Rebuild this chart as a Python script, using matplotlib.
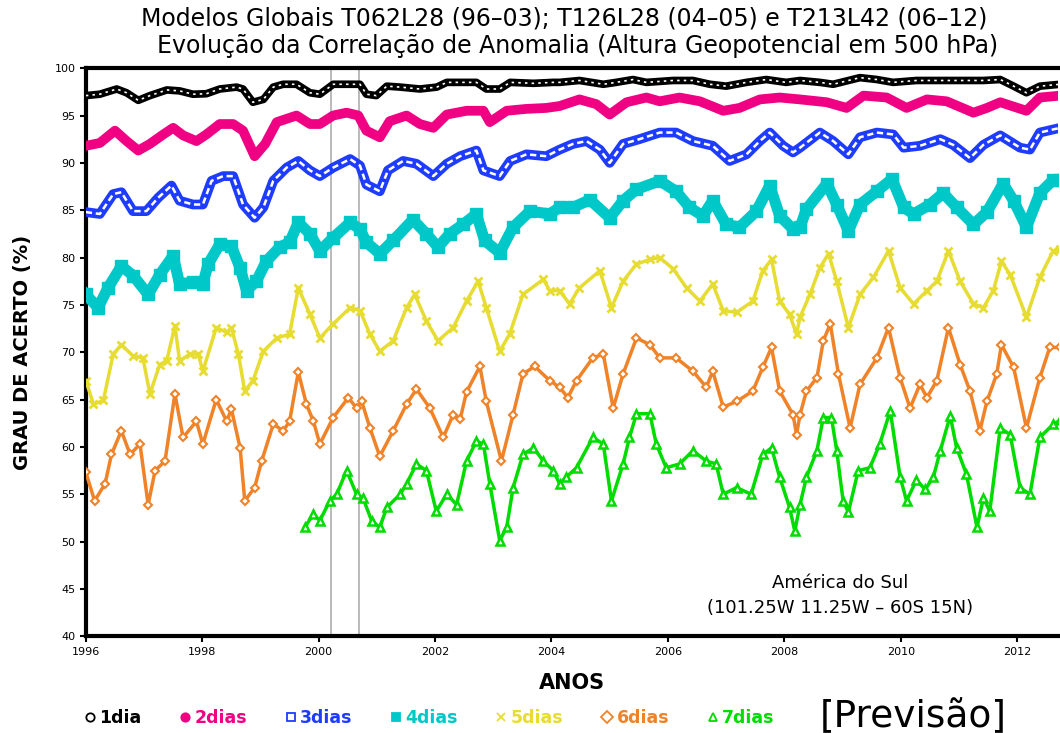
import matplotlib
matplotlib.use("Agg")
import matplotlib.pyplot as plt
from matplotlib.lines import Line2D

# ---------------- dados ----------------
anos_1d = [1996.00, 1996.24, 1996.53, 1996.70, 1996.90, 1997.10, 1997.39, 1997.61, 1997.84, 1998.07,
           1998.30, 1998.59, 1998.70, 1998.87, 1999.05, 1999.22, 1999.39, 1999.62, 1999.85,
           2000.02, 2000.25, 2000.71, 2000.82, 2000.99, 2001.17, 2001.40, 2001.74, 2002.03, 2002.20,
           2002.71, 2002.88, 2003.11, 2003.29, 2003.69, 2004.03,
           2004.14, 2004.48, 2004.89, 2005.11, 2005.40, 2005.63, 2006.09, 2006.43, 2006.72, 2007.00,
           2007.35, 2007.69, 2008.03,
           2008.27, 2008.61, 2008.84, 2009.30, 2009.59, 2009.87, 2010.27, 2010.85, 2011.42, 2011.71,
           2011.94, 2012.16, 2012.39, 2012.74]
acc_1d = [97.1, 97.25, 97.8, 97.4, 96.6, 97.1, 97.7, 97.6, 97.25, 97.3,
          97.8, 98.0, 97.8, 96.4, 96.7, 98.0, 98.3, 98.3, 97.4,
          97.25, 98.3, 98.3, 97.25, 97.1, 98.1, 98.0, 97.8, 98.0, 98.5,
          98.5, 97.8, 97.8, 98.5, 98.4, 98.5,
          98.5, 98.7, 98.3, 98.5, 98.8, 98.5, 98.7, 98.7, 98.3, 98.1,
          98.5, 98.8, 98.5,
          98.7, 98.5, 98.3, 99.0, 98.8, 98.5, 98.7, 98.7, 98.7, 98.8,
          98.1, 97.4, 98.1, 98.3]

anos_2d = [1996.00, 1996.24, 1996.50, 1996.70, 1996.90, 1997.10, 1997.33, 1997.50, 1997.67, 1997.90,
           1998.07, 1998.30, 1998.53, 1998.70, 1998.90, 1999.08, 1999.28, 1999.62, 1999.85,
           2000.02, 2000.25, 2000.48, 2000.68, 2000.82, 2001.05, 2001.22, 2001.51, 2001.74, 2001.97,
           2002.20, 2002.54, 2002.83, 2002.94, 2003.23, 2003.57, 2003.91,
           2004.14, 2004.48, 2004.77, 2005.00, 2005.29, 2005.63, 2005.86, 2006.20, 2006.55, 2006.95,
           2007.23, 2007.58, 2007.92,
           2008.27, 2008.73, 2009.07, 2009.36, 2009.76, 2010.10, 2010.45, 2010.79, 2011.25, 2011.48,
           2011.71, 2012.16, 2012.39, 2012.74]
acc_2d = [91.8, 92.1, 93.4, 92.3, 91.3, 92.0, 93.0, 93.7, 92.9, 92.3,
          93.0, 94.1, 94.1, 93.4, 90.7, 92.0, 94.3, 95.0, 94.1,
          94.1, 95.0, 95.3, 95.0, 93.4, 92.7, 94.4, 95.0, 94.1, 93.7,
          95.1, 95.5, 95.5, 94.3, 95.5, 95.7, 95.8,
          96.0, 96.7, 96.2, 95.1, 96.4, 96.9, 96.5, 96.9, 96.5, 95.5,
          95.8, 96.7, 96.9,
          96.7, 96.4, 95.8, 97.1, 96.9, 95.8, 96.7, 96.5, 95.3, 95.8,
          96.4, 95.5, 96.9, 97.1]

anos_3d = [1996.00, 1996.24, 1996.47, 1996.61, 1996.81, 1997.04, 1997.24, 1997.47, 1997.61, 1997.84,
           1998.01, 1998.16, 1998.36, 1998.53, 1998.70, 1998.90, 1999.05, 1999.22, 1999.45, 1999.65,
           1999.85,
           2000.02, 2000.25, 2000.54, 2000.71, 2000.82, 2001.05, 2001.19, 2001.45, 2001.68, 2001.97,
           2002.20, 2002.43, 2002.71, 2002.83, 2003.11, 2003.29, 2003.57, 2003.91,
           2004.14, 2004.37, 2004.60, 2004.83, 2005.00, 2005.23, 2005.51, 2005.86, 2006.14, 2006.43,
           2006.77, 2007.06, 2007.35, 2007.58, 2007.75, 2007.98, 2008.15,
           2008.27, 2008.61, 2008.84, 2009.10, 2009.30, 2009.59, 2009.87, 2010.05, 2010.33, 2010.68,
           2010.90, 2011.19, 2011.42, 2011.71, 2012.05, 2012.22, 2012.39, 2012.74]
acc_3d = [84.8, 84.6, 86.7, 86.9, 84.9, 84.9, 86.3, 87.6, 86.0, 85.6,
          85.6, 88.1, 88.6, 88.6, 85.6, 84.2, 85.3, 88.1, 89.5, 90.2,
          89.2,
          88.6, 89.5, 90.4, 89.7, 87.7, 87.0, 89.2, 90.2, 89.9, 88.6,
          89.9, 90.7, 91.3, 89.2, 88.6, 90.2, 90.9, 90.7,
          91.4, 92.0, 92.3, 91.4, 90.0, 92.0, 92.5, 93.2, 93.2, 92.3,
          91.8, 90.2, 90.9, 92.3, 93.2, 91.8, 91.1,
          91.6, 93.2, 92.3, 90.9, 92.7, 93.2, 93.0, 91.6, 91.8, 92.5,
          91.9, 90.5, 91.9, 92.9, 91.6, 91.4, 93.2, 93.7]

anos_4d = [1996.00, 1996.21, 1996.38, 1996.61, 1996.81, 1997.07, 1997.27, 1997.50, 1997.61, 1997.84,
           1998.01, 1998.10, 1998.30, 1998.50, 1998.65, 1998.76, 1998.93, 1999.10, 1999.33, 1999.50,
           1999.65, 1999.85,
           2000.02, 2000.25, 2000.54, 2000.71, 2000.82, 2001.05, 2001.28, 2001.62, 2001.85, 2002.05,
           2002.25, 2002.48, 2002.71, 2002.85, 2003.11, 2003.34, 2003.63, 2003.97,
           2004.14, 2004.37, 2004.66, 2005.00, 2005.23, 2005.46, 2005.86, 2006.14, 2006.37, 2006.60,
           2006.77, 2007.00, 2007.23, 2007.52, 2007.75, 2007.92, 2008.15,
           2008.27, 2008.38, 2008.73, 2008.90, 2009.10, 2009.30, 2009.59, 2009.85, 2010.05, 2010.22,
           2010.50, 2010.73, 2010.96, 2011.25, 2011.48, 2011.76, 2011.94, 2012.16, 2012.39, 2012.62,
           2012.74]
acc_4d = [76.1, 74.7, 76.8, 79.1, 78.1, 76.1, 78.2, 80.2, 77.2, 77.4,
          77.2, 79.3, 81.4, 81.2, 78.9, 76.5, 77.5, 79.6, 81.1, 81.6,
          83.7, 82.5,
          80.7, 82.1, 83.7, 83.0, 81.6, 80.4, 81.8, 84.0, 82.5, 81.1,
          82.5, 83.5, 84.6, 81.8, 80.5, 83.2, 84.9, 84.6,
          85.3, 85.3, 86.1, 84.2, 86.0, 87.2, 88.1, 87.0, 85.3, 84.4,
          86.0, 83.5, 83.2, 84.9, 87.6, 84.4, 83.0,
          83.2, 85.1, 87.8, 85.6, 82.8, 85.6, 87.0, 88.3, 85.3, 84.6,
          85.6, 86.8, 85.3, 83.5, 84.8, 87.8, 86.0, 83.2, 86.8, 88.2,
          88.2]

anos_5d = [1996.00, 1996.13, 1996.30, 1996.47, 1996.61, 1996.81, 1996.98, 1997.10, 1997.27, 1997.39,
           1997.53, 1997.61, 1997.79, 1997.93, 1998.01, 1998.24, 1998.42, 1998.50, 1998.62, 1998.73,
           1998.87, 1999.05, 1999.28, 1999.50, 1999.65, 1999.85,
           2000.02, 2000.25, 2000.54, 2000.71, 2000.88, 2001.05, 2001.28, 2001.51, 2001.65, 2001.85,
           2002.05, 2002.31, 2002.54, 2002.74, 2002.88, 2003.11, 2003.28, 2003.51, 2003.86, 2003.97,
           2004.14, 2004.31, 2004.48, 2004.83, 2005.03, 2005.23, 2005.46, 2005.69, 2005.86, 2006.09,
           2006.32, 2006.55, 2006.77, 2006.95, 2007.18, 2007.46, 2007.63, 2007.78, 2007.92, 2008.09,
           2008.21,
           2008.27, 2008.44, 2008.61, 2008.76, 2008.90, 2009.10, 2009.30, 2009.53, 2009.79, 2009.99,
           2010.22, 2010.45, 2010.62, 2010.82, 2011.02, 2011.25, 2011.42, 2011.59, 2011.73, 2011.88,
           2012.16, 2012.39, 2012.62, 2012.74]
acc_5d = [67.0, 64.5, 64.9, 69.8, 70.8, 69.6, 69.4, 65.6, 68.7, 69.1,
          72.8, 69.1, 69.8, 69.8, 68.0, 72.6, 72.1, 72.6, 69.8, 65.9,
          67.0, 70.1, 71.5, 71.9, 76.8, 74.0,
          71.5, 73.0, 74.7, 74.4, 71.9, 70.1, 71.2, 74.7, 76.1, 73.3,
          71.2, 72.6, 75.4, 77.5, 74.7, 70.1, 71.9, 76.1, 77.7, 76.5,
          76.5, 75.1, 76.8, 78.6, 74.7, 77.5, 79.3, 79.8, 80.0, 78.8,
          76.8, 75.4, 77.2, 74.4, 74.2, 75.4, 78.6, 79.8, 75.4, 74.0,
          71.9,
          73.7, 76.1, 78.9, 80.4, 77.5, 72.6, 76.1, 77.9, 80.7, 76.8,
          75.1, 76.5, 77.5, 80.7, 77.5, 75.1, 74.7, 76.5, 79.6, 78.2,
          73.7, 77.9, 80.7, 80.9]

anos_6d = [1996.00, 1996.15, 1996.33, 1996.44, 1996.61, 1996.76, 1996.93, 1997.07, 1997.19, 1997.36,
           1997.53, 1997.67, 1997.90, 1998.01, 1998.24, 1998.42, 1998.50, 1998.65, 1998.73, 1998.90,
           1999.02, 1999.22, 1999.39, 1999.50, 1999.65, 1999.79, 1999.91,
           2000.02, 2000.25, 2000.51, 2000.65, 2000.74, 2000.88, 2001.05, 2001.28, 2001.51, 2001.68,
           2001.91, 2002.14, 2002.31, 2002.43, 2002.54, 2002.77, 2002.88, 2003.14, 2003.34, 2003.51,
           2003.71, 2003.97,
           2004.14, 2004.28, 2004.43, 2004.71, 2004.89, 2005.06, 2005.23, 2005.46, 2005.69, 2005.86,
           2006.14, 2006.43, 2006.66, 2006.77, 2006.95, 2007.18, 2007.46, 2007.63, 2007.78, 2007.92,
           2008.15, 2008.21,
           2008.27, 2008.38, 2008.56, 2008.67, 2008.79, 2008.93, 2009.13, 2009.30, 2009.59, 2009.79,
           2009.99, 2010.16, 2010.33, 2010.45, 2010.62, 2010.82, 2011.02, 2011.19, 2011.36, 2011.48,
           2011.65, 2011.73, 2011.94, 2012.16, 2012.39, 2012.56, 2012.74]
acc_6d = [57.3, 54.3, 56.1, 59.2, 61.7, 59.2, 60.3, 53.9, 57.5, 58.5,
          65.6, 61.0, 62.7, 60.3, 65.0, 62.7, 64.0, 59.9, 54.3, 55.7,
          58.5, 62.4, 61.7, 62.7, 67.9, 64.5, 62.7,
          60.3, 63.1, 65.2, 64.1, 64.8, 62.0, 59.0, 61.7, 64.5, 66.1,
          64.1, 61.0, 63.4, 62.9, 65.8, 68.5, 64.8, 58.5, 63.4, 67.7,
          68.5, 67.0,
          66.3, 65.2, 67.0, 69.4, 69.8, 64.1, 67.7, 71.5, 70.8, 69.4,
          69.4, 68.0, 66.3, 68.0, 64.2, 64.8, 65.9, 68.4, 70.5, 65.9,
          63.4, 61.3,
          63.4, 65.9, 67.3, 71.2, 73.0, 67.7, 62.0, 66.6, 69.4, 72.6,
          67.3, 64.1, 66.6, 65.2, 67.0, 72.6, 68.7, 65.9, 61.7, 64.8,
          67.7, 70.8, 68.4, 62.0, 67.3, 70.5, 70.5]

anos_7d = [1999.76, 1999.91,
           2000.02, 2000.19, 2000.31, 2000.48, 2000.65, 2000.76, 2000.91, 2001.05, 2001.17, 2001.40,
           2001.51, 2001.68, 2001.85, 2002.02, 2002.20, 2002.37, 2002.54, 2002.71, 2002.83, 2002.94,
           2003.11, 2003.23, 2003.34, 2003.51, 2003.69, 2003.86, 2004.03,
           2004.14, 2004.25, 2004.43, 2004.71, 2004.89, 2005.03, 2005.23, 2005.34, 2005.46, 2005.69,
           2005.80, 2005.97, 2006.20, 2006.43, 2006.66, 2006.83, 2006.95, 2007.18, 2007.43, 2007.63,
           2007.78, 2007.92, 2008.09, 2008.18,
           2008.27, 2008.38, 2008.56, 2008.67, 2008.81, 2008.90, 2009.01, 2009.10, 2009.27, 2009.47,
           2009.64, 2009.82, 2009.99, 2010.10, 2010.27, 2010.42, 2010.56, 2010.68, 2010.85, 2010.96,
           2011.13, 2011.31, 2011.42, 2011.53, 2011.71, 2011.88, 2012.05, 2012.22, 2012.39, 2012.62,
           2012.74]
acc_7d = [51.5, 52.9,
          52.2, 54.3, 55.0, 57.5, 55.0, 54.6, 52.2, 51.5, 53.6, 55.0,
          56.1, 58.2, 57.5, 53.2, 55.0, 53.9, 58.5, 60.6, 60.3, 56.1,
          50.1, 51.5, 55.7, 59.2, 59.9, 58.5, 57.5,
          56.1, 56.8, 57.8, 61.0, 60.3, 54.3, 58.2, 61.0, 63.5, 63.5,
          60.3, 57.8, 58.2, 59.6, 58.5, 58.2, 55.0, 55.7, 55.0, 59.2,
          59.9, 56.8, 53.6, 51.1,
          53.9, 56.8, 59.6, 63.1, 63.1, 59.6, 54.3, 53.1, 57.5, 57.8,
          60.3, 63.8, 56.8, 54.3, 56.5, 55.5, 56.8, 59.6, 63.3, 59.9,
          57.1, 51.5, 54.6, 53.2, 62.0, 61.3, 55.7, 55.0, 61.0, 62.4,
          62.8]

rotulos = ["1dia", "2dias", "3dias", "4dias", "5dias", "6dias", "7dias"]
mudanca_modelo = [2000.21, 2000.69]
anos_ticks = [1996, 1998, 2000, 2002, 2004, 2006, 2008, 2010, 2012]
pct_ticks = [40, 45, 50, 55, 60, 65, 70, 75, 80, 85, 90, 95, 100]

# cores padrao do GrADS
cores = ["black", "#f00082", "#1e3cff", "#00c8c8", "#e6dc32", "#f08228", "#00dc00"]
marcadores = ["o", "o", "s", "s", "x", "D", "^"]
cheios = [False, True, False, True, True, False, False]

fig = plt.figure(figsize=(10.6, 7.33), dpi=100)
ax = fig.add_axes([0.081, 0.132, 0.917, 0.775])

for xv in mudanca_modelo:
    ax.axvline(xv, color="#b4b4b4", lw=1.3, zorder=1)

# 1dia: faixa preta com pontos brancos (circulos vazados sobrepostos)
ax.plot(anos_1d, acc_1d, color=cores[0], lw=5.5, zorder=3, solid_joinstyle="round")
ax.plot(anos_1d, acc_1d, color="white", lw=1.2, ls=(0, (1.5, 2.5)), zorder=4)
# 2dias: faixa cheia magenta
ax.plot(anos_2d, acc_2d, color=cores[1], lw=7, zorder=3, solid_joinstyle="round")
# 3dias: faixa azul com tracos brancos (quadrados vazados)
ax.plot(anos_3d, acc_3d, color=cores[2], lw=7, zorder=3, solid_joinstyle="round")
ax.plot(anos_3d, acc_3d, color="white", lw=1.8, ls=(0, (2.5, 1.5)), zorder=4)
# 4dias: faixa larga ciano com quadrados
ax.plot(anos_4d, acc_4d, color=cores[3], lw=8, marker="s", ms=9, mec=cores[3], zorder=3,
        solid_joinstyle="round")
# 5, 6 e 7 dias: linha com marcadores
ax.plot(anos_5d, acc_5d, color=cores[4], lw=2.5, marker="x", ms=6, mew=2, zorder=3)
ax.plot(anos_6d, acc_6d, color=cores[5], lw=2.5, marker="D", ms=4, mfc="white", mec=cores[5],
        mew=1.5, zorder=3)
ax.plot(anos_7d, acc_7d, color=cores[6], lw=2.5, marker="^", ms=5.5, mfc="white", mec=cores[6],
        mew=1.8, zorder=3)

handles = []
for cor, mk, cheio in zip(cores, marcadores, cheios):
    face = cor if cheio else "white"
    handles.append(Line2D([], [], ls="none", marker=mk, ms=6, color=cor, mfc=face, mec=cor, mew=1.3))

ax.set_xlim(1996, 2012.70)
ax.set_ylim(40, 100)
ax.set_xticks(anos_ticks)
ax.set_yticks(pct_ticks)
ax.tick_params(direction="out", length=4, width=1.5, labelsize=8)
for s in ["left", "bottom", "top"]:
    ax.spines[s].set_linewidth(3)
ax.spines["right"].set_visible(False)

ax.set_ylabel("GRAU DE ACERTO (%)", fontsize=14, fontweight="bold", labelpad=16)
ax.set_xlabel("ANOS", fontsize=15, fontweight="bold", labelpad=12)

ax.text(0.776, 0.093, "América do Sul", transform=ax.transAxes, ha="center", va="center",
        fontsize=13)
ax.text(0.776, 0.049, "(101.25W 11.25W – 60S 15N)", transform=ax.transAxes, ha="center",
        va="center", fontsize=13)

fig.text(0.532, 0.975, "Modelos Globais T062L28 (96–03); T126L28 (04–05) e T213L42 (06–12)",
         ha="center", va="center", fontsize=17)
fig.text(0.545, 0.937, "Evolução da Correlação de Anomalia (Altura Geopotencial em 500 hPa)",
         ha="center", va="center", fontsize=17)

leg = fig.legend(handles, rotulos, loc="center left", bbox_to_anchor=(0.065, 0.021), ncol=7,
                 frameon=False, handlelength=0.6, handletextpad=0.25, columnspacing=2.2,
                 prop={"size": 12.5, "weight": "bold"})
for txt, cor in zip(leg.get_texts(), cores):
    txt.set_color(cor)

fig.text(0.862, 0.022, "[Previsão]", ha="center", va="center", fontsize=27)

fig.savefig("out.png", dpi=100)
